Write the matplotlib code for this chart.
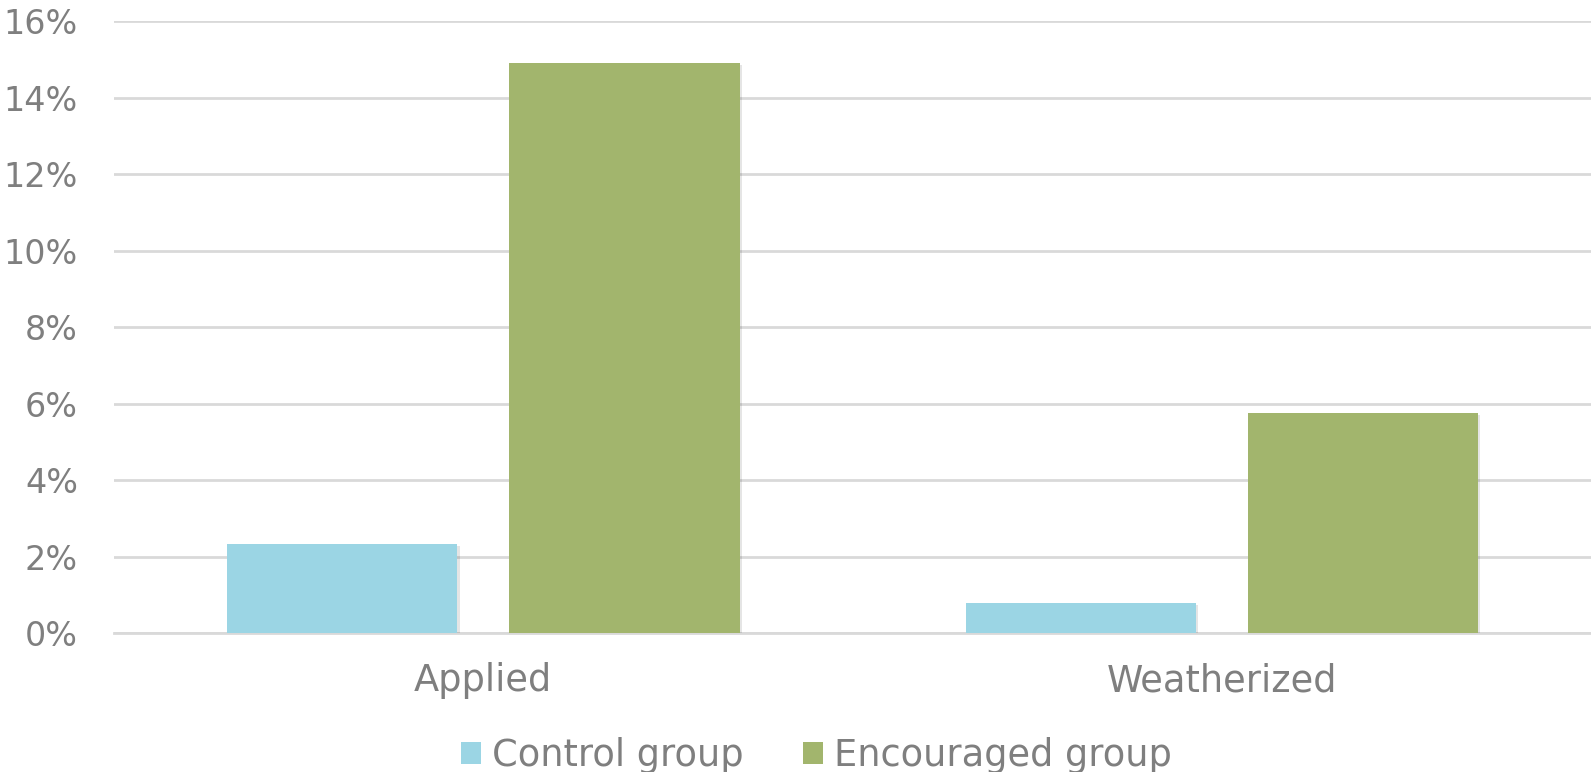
import numpy as np
import matplotlib.pyplot as plt
import matplotlib.patheffects as pe
from matplotlib.ticker import FuncFormatter

# share of households by outcome
categories = ['Applied', 'Weatherized']
series_names = ['Control group', 'Encouraged group']
control = [2.33, 0.79]
encouraged = [14.9, 5.75]
yticks = [0, 2, 4, 6, 8, 10, 12, 14, 16]

colors = ['#9BD5E4', '#A2B56D']
text_gray = '#7F7F7F'
grid_gray = '#D9D9D9'

plt.rcParams['font.family'] = ['DejaVu Sans']

fig = plt.figure(figsize=(15.91, 7.72), dpi=100)
ax = fig.add_axes([0.0717, 0.18, 0.9283, 0.7924])

x = np.arange(len(categories))
width = 0.312
gap = 0.07
shadow = [pe.SimplePatchShadow(offset=(1.5, -1.5), shadow_rgbFace='#000000', alpha=0.1), pe.Normal()]
b1 = ax.bar(x - (width + gap) / 2, control, width, color=colors[0], label=series_names[0], zorder=3)
b2 = ax.bar(x + (width + gap) / 2, encouraged, width, color=colors[1], label=series_names[1], zorder=3)

ax.set_xlim(-0.5, 1.5)
ax.set_ylim(0, 16)
ax.set_yticks(yticks)
ax.yaxis.set_major_formatter(FuncFormatter(lambda v, p: f'{int(v)}%'))
ax.set_xticks(x)
ax.set_xticklabels(categories)

ax.grid(axis='y', color=grid_gray, linewidth=2, zorder=0)
for s in ['top', 'right', 'left']:
    ax.spines[s].set_visible(False)
ax.spines['bottom'].set_color(grid_gray)
ax.spines['bottom'].set_linewidth(2)
ax.tick_params(axis='both', length=0, labelcolor=text_gray)
ax.tick_params(axis='y', labelsize=24, pad=26)
ax.tick_params(axis='x', labelsize=26.5, pad=21)

fig.legend(loc='center', bbox_to_anchor=(0.513, 0.021), ncol=2, frameon=False,
           fontsize=26.5, labelcolor=text_gray, handlelength=0.55, handleheight=0.55,
           handletextpad=0.3, columnspacing=1.6)

# soft drop shadow on the bars only
for p in list(b1) + list(b2):
    p.set_path_effects(shadow)

fig.savefig('out.png', dpi=100)
